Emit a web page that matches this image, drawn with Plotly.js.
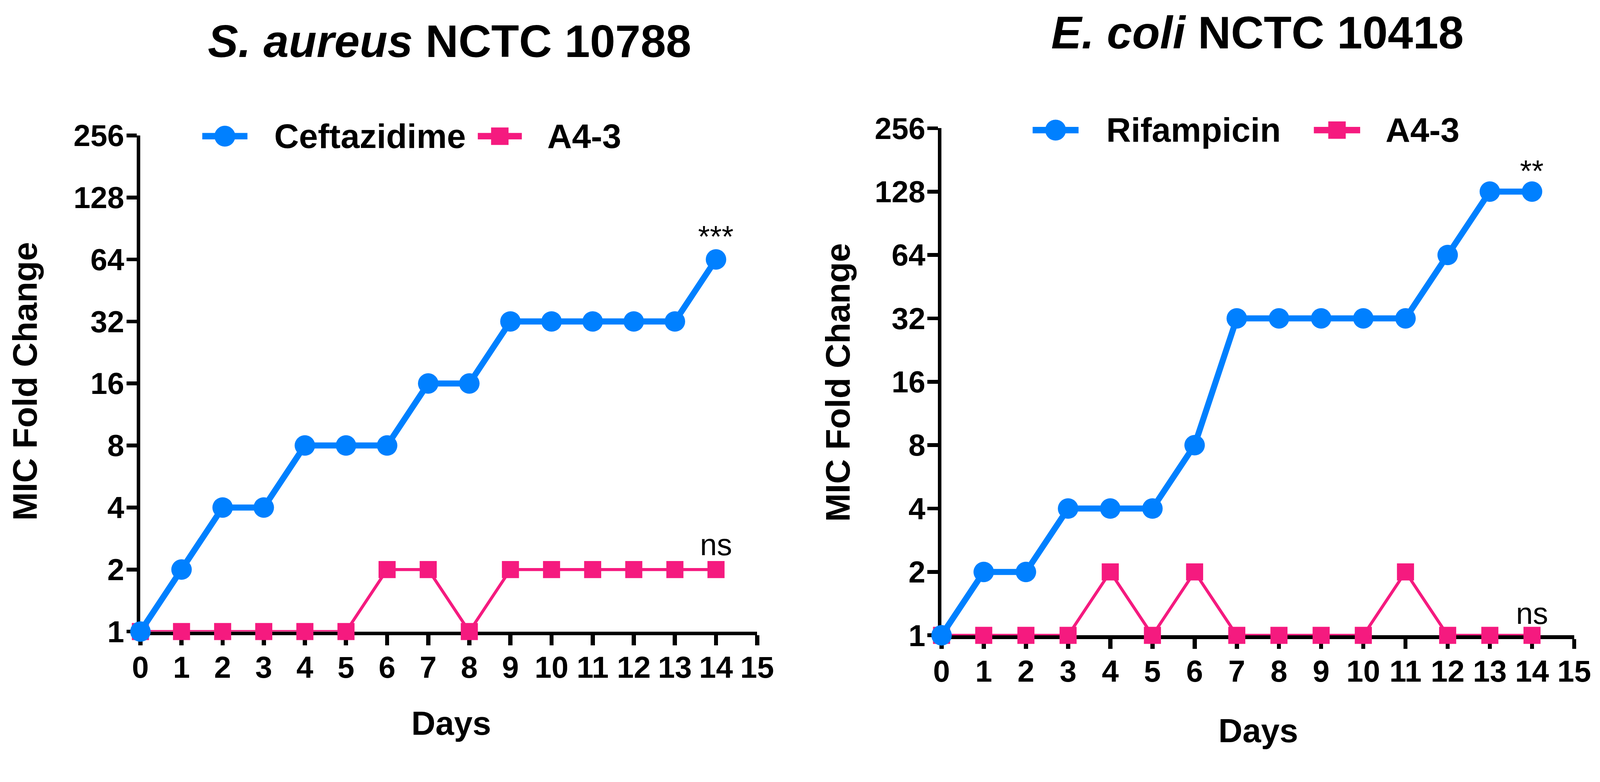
<!DOCTYPE html>
<html>
<head>
<meta charset="utf-8">
<script src="https://cdn.plot.ly/plotly-3.0.1.min.js"></script>
<style>
  html, body { margin: 0; padding: 0; background: #fff; overflow: hidden; }
  #plot { position: absolute; left: 0; top: 0; }
</style>
</head>
<body>
<div id="plot"></div>
<script>
// data (MIC fold change per day)
var days = [0, 1, 2, 3, 4, 5, 6, 7, 8, 9, 10, 11, 12, 13, 14];
var saCeftazidime = [1, 2, 4, 4, 8, 8, 8, 16, 16, 32, 32, 32, 32, 32, 64];
var saA43 = [1, 1, 1, 1, 1, 1, 2, 2, 1, 2, 2, 2, 2, 2, 2];
var ecRifampicin = [1, 2, 2, 4, 4, 4, 8, 32, 32, 32, 32, 32, 64, 128, 128];
var ecA43 = [1, 1, 1, 1, 2, 1, 2, 1, 1, 1, 1, 2, 1, 1, 1];

var dayTicks = [0, 1, 2, 3, 4, 5, 6, 7, 8, 9, 10, 11, 12, 13, 14, 15];
var foldTicks = [1, 2, 4, 8, 16, 32, 64, 128, 256];

// layout is worked out on a 4216x2003 grid and scaled to the real viewport
// (keep the same aspect so the shot is not stretched)
var REF_W = 4216, REF_H = 2003;
var W = window.innerWidth || REF_W;
var s = W / REF_W;
var H = Math.round(REF_H * s);
var BLUE = "#0080FF", PINK = "#F51A7F";
var FONT = "Liberation Sans, Arial, sans-serif";

function px(x) { return x / REF_W; }
function py(y) { return 1 - y / REF_H; }

function lineTrace(x, y, name, color, symbol, size, lw, xa, ya) {
    return {
        x: x, y: y, name: name,
        type: "scatter", mode: "lines+markers",
        xaxis: xa, yaxis: ya,
        cliponaxis: false,
        showlegend: false,
        line: {color: color, width: lw * s},
        marker: {color: color, symbol: symbol, size: size * s, line: {width: 0}}
    };
}

// pink first so the blue circle sits on top at day 0
var data = [
    lineTrace(days, saA43, "A4-3", PINK, "square", 45, 8, "x", "y"),
    lineTrace(days, saCeftazidime, "Ceftazidime", BLUE, "circle", 54, 16, "x", "y"),
    lineTrace(days, ecA43, "A4-3", PINK, "square", 45, 8, "x2", "y2"),
    lineTrace(days, ecRifampicin, "Rifampicin", BLUE, "circle", 54, 16, "x2", "y2")
];

function xAxis(domain, anchor) {
    return {
        domain: domain, anchor: anchor,
        range: [0, 15], tickvals: dayTicks,
        showgrid: false, zeroline: false,
        showline: true, linecolor: "#000", linewidth: 10 * s,
        ticks: "outside", ticklen: 26 * s, tickwidth: 11 * s, tickcolor: "#000",
        ticklabelstandoff: Math.round(-10 * s),
        tickfont: {family: FONT, size: 80 * s, color: "#000", weight: "bold"},
        layer: "below traces"
    };
}

function yAxis(domain, anchor) {
    return {
        domain: domain, anchor: anchor,
        type: "log", range: [0, Math.log10(256)],
        tickvals: foldTicks, ticktext: foldTicks.map(String),
        showgrid: false, zeroline: false,
        showline: true, linecolor: "#000", linewidth: 10 * s,
        ticks: "outside", ticklen: 27 * s, tickwidth: 10 * s, tickcolor: "#000",
        ticklabelstandoff: Math.round(-10 * s),
        tickfont: {family: FONT, size: 80 * s, color: "#000", weight: "bold"},
        layer: "below traces"
    };
}

function text(x, y, t, size, opts) {
    var a = {
        xref: "paper", yref: "paper", x: px(x), y: py(y),
        text: t, showarrow: false,
        xanchor: "center", yanchor: "middle",
        font: {family: FONT, size: size * s, color: "#000", weight: "bold"}
    };
    for (var k in opts) a[k] = opts[k];
    return a;
}

// significance marks at the last day of each series
function mark(t, xa, ya, series, shift) {
    return {
        xref: xa, yref: ya, x: days[days.length - 1],
        y: Math.log10(series[series.length - 1]),
        text: t, showarrow: false, yshift: shift * s,
        xanchor: "center", yanchor: "middle",
        font: {family: FONT, size: 80 * s, color: "#000"}
    };
}

var annotations = [
    text(1185, 109, "<i>S. aureus</i> NCTC 10788", 120),
    text(3313, 86, "<i>E. coli</i> NCTC 10418", 120),
    text(66, 1005, "MIC Fold Change", 90, {textangle: -90}),
    text(2208, 1008, "MIC Fold Change", 90, {textangle: -90}),
    text(1189, 1907, "Days", 88),
    text(3315, 1926, "Days", 88),
    mark("***", "x", "y", saCeftazidime, 60),
    mark("ns", "x", "y", saA43, 66),
    mark("**", "x2", "y2", ecRifampicin, 54),
    mark("ns", "x2", "y2", ecA43, 58)
];

var shapes = [];

// hand-built legend: thick bar with the marker on it, then the label
function legendItem(x0, x1, cy, color, kind, half, label, tx) {
    shapes.push({type: "line", xref: "paper", yref: "paper",
        x0: px(x0), x1: px(x1), y0: py(cy), y1: py(cy),
        line: {color: color, width: 17 * s}});
    shapes.push({type: kind, xref: "paper", yref: "paper",
        xsizemode: "pixel", ysizemode: "pixel",
        xanchor: px((x0 + x1) / 2), yanchor: py(cy),
        x0: -half * s, x1: half * s, y0: -half * s, y1: half * s,
        fillcolor: color, line: {width: 0}});
    annotations.push(text(tx, cy, label, 90, {xanchor: "left"}));
}

legendItem(533, 652, 359, BLUE, "circle", 27.5, "Ceftazidime", 720);
legendItem(1259, 1375, 359, PINK, "rect", 23, "A4-3", 1440);
legendItem(2721, 2842, 343, BLUE, "circle", 27.5, "Rifampicin", 2913);
legendItem(3462, 3584, 343, PINK, "rect", 23, "A4-3", 3649);

var layout = {
    width: W, height: H,
    margin: {l: 0, r: 0, t: 0, b: 0},
    paper_bgcolor: "#fff", plot_bgcolor: "#fff",
    showlegend: false,
    xaxis: xAxis([px(370), px(1995)], "y"),
    yaxis: yAxis([py(1665), py(357)], "x"),
    xaxis2: xAxis([px(2481), px(4148)], "y2"),
    yaxis2: yAxis([py(1675), py(338)], "x2"),
    annotations: annotations,
    shapes: shapes
};

Plotly.newPlot("plot", data, layout, {staticPlot: true});
</script>
</body>
</html>
